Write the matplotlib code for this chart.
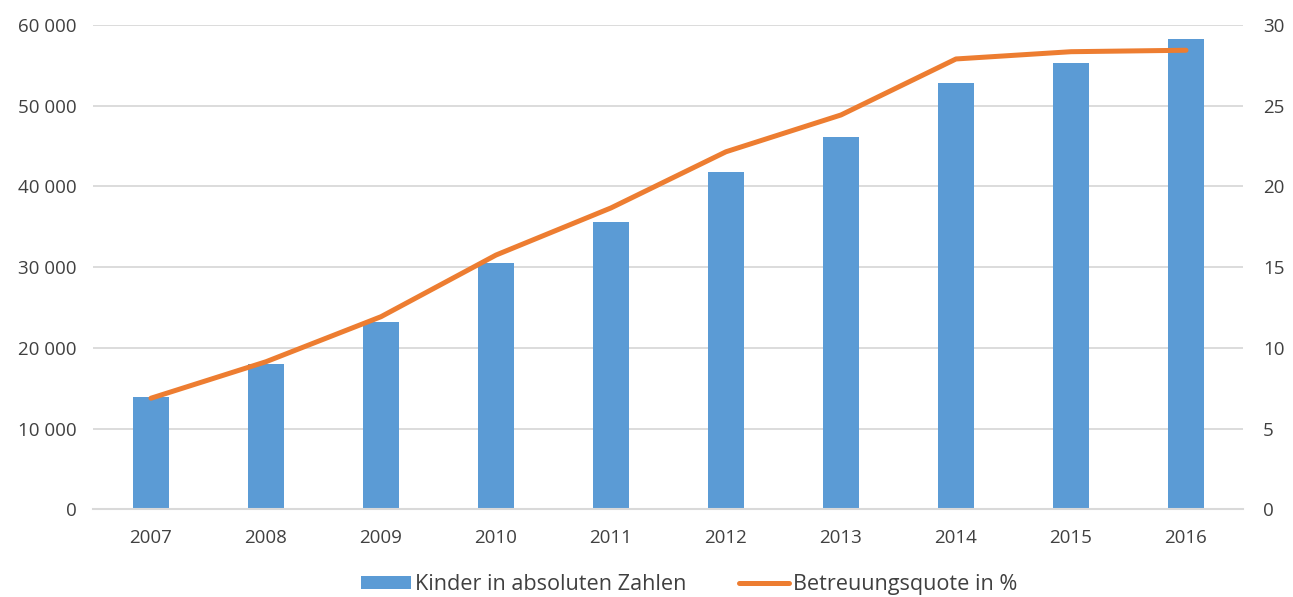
import matplotlib.pyplot as plt
import numpy as np
from matplotlib.ticker import FuncFormatter

plt.rcParams['font.family'] = ['Open Sans', 'DejaVu Sans']

years = ["2007", "2008", "2009", "2010", "2011", "2012", "2013", "2014", "2015", "2016"]
kinder = [13880, 18000, 23250, 30530, 35640, 41760, 46130, 52860, 55340, 58240]
quote = [6.88, 9.14, 11.93, 15.75, 18.67, 22.15, 24.43, 27.9, 28.35, 28.44]

blue = "#5B9BD5"
orange = "#ED7D31"
grey = "#D9D9D9"
txt = "#404040"

fig = plt.figure(figsize=(12.93, 5.97), dpi=100)
ax1 = fig.add_axes([0.0723, 0.147, 0.8894, 0.811])
ax2 = ax1.twinx()

x = np.arange(len(years))
bars = ax1.bar(x, kinder, width=0.31, color=blue, zorder=2,
               label="Kinder in absoluten Zahlen")
line, = ax2.plot(x, quote, color=orange, lw=3.6, solid_capstyle='round',
                 label="Betreuungsquote in %", zorder=3)

ax1.set_xlim(-0.5, len(years) - 0.5)
ax1.set_ylim(0, 60000)
ax2.set_ylim(0, 30)
ax1.set_yticks(range(0, 60001, 10000))
ax2.set_yticks(range(0, 31, 5))
ax1.yaxis.set_major_formatter(FuncFormatter(lambda v, p: f"{int(v):,}".replace(",", " ")))
ax1.set_xticks(x)
ax1.set_xticklabels(years)

ax1.grid(axis='y', color=grey, lw=1.3, zorder=0)
ax1.set_axisbelow(True)
for a in (ax1, ax2):
    for s in a.spines.values():
        s.set_visible(False)
    a.tick_params(length=0, labelsize=13.5, colors=txt)
ax1.spines['bottom'].set_visible(True)
ax1.spines['bottom'].set_color(grey)
ax1.spines['bottom'].set_linewidth(1.5)
ax1.tick_params(axis='x', pad=14)
ax1.tick_params(axis='y', pad=12)
ax2.tick_params(axis='y', pad=14)

ax2.set_zorder(ax1.get_zorder() + 1)
ax2.patch.set_visible(False)

fig.legend([bars, line], ["Kinder in absoluten Zahlen", "Betreuungsquote in %"],
           loc='lower center', bbox_to_anchor=(0.533, -0.03), ncol=2, frameon=False,
           fontsize=15.6, handlelength=2.3, handleheight=0.55, handletextpad=0.2,
           columnspacing=2.4, labelcolor=txt)

plt.savefig("out.png", dpi=100)
